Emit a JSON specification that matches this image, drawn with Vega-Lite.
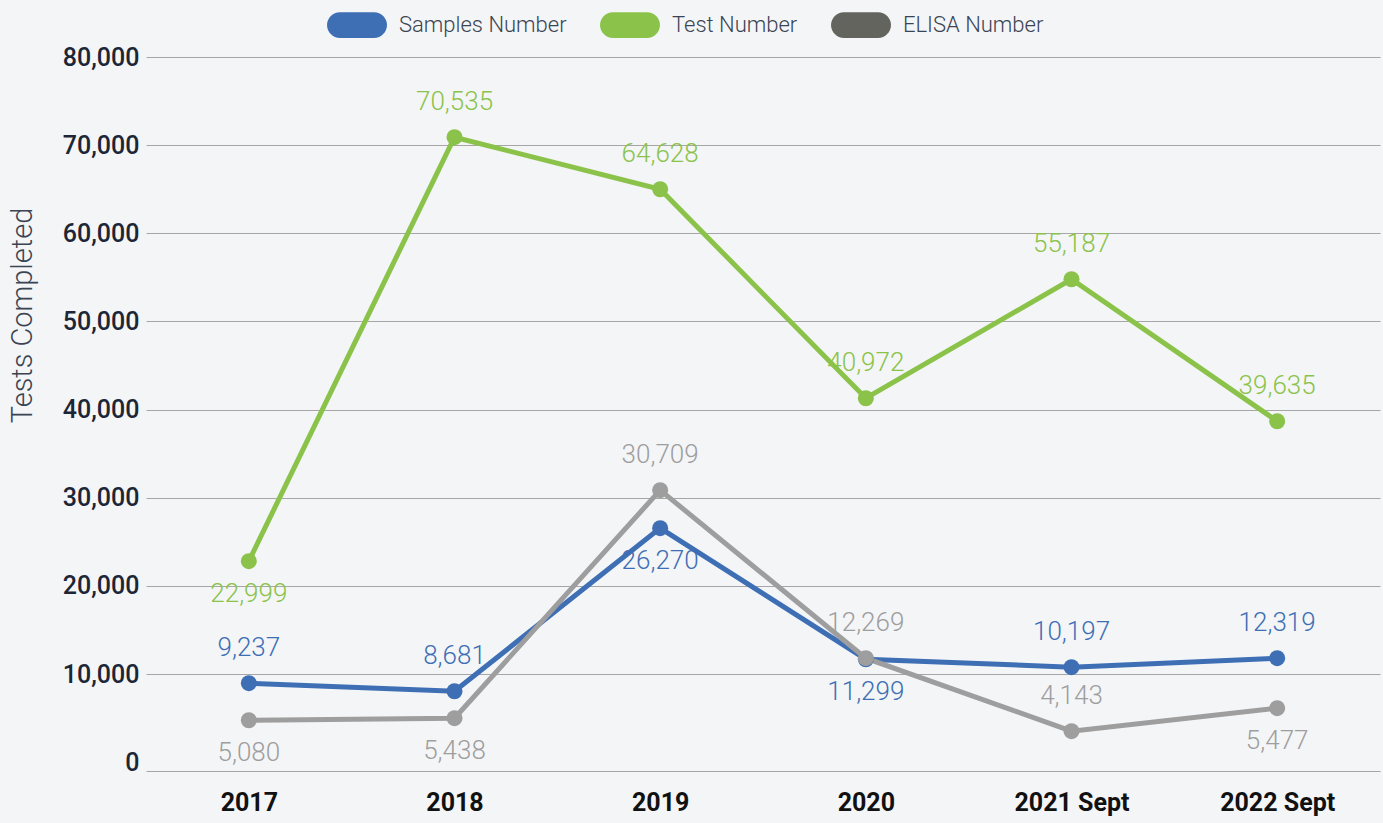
{
  "$schema": "https://vega.github.io/schema/vega-lite/v6.json",
  "width": 1234,
  "height": 714,
  "autosize": {"type": "none"},
  "padding": {"left": 146, "top": 57, "right": 3, "bottom": 52},
  "background": "#f4f5f7",
  "config": {
    "view": {"stroke": null},
    "font": "Roboto"
  },
  "data": {
    "values": [
      {"year": "2017", "series": "Samples Number", "value": 8960, "label": "9,237", "pos": "above"},
      {"year": "2018", "series": "Samples Number", "value": 8050, "label": "8,681", "pos": "above"},
      {"year": "2019", "series": "Samples Number", "value": 26550, "label": "26,270", "pos": "below"},
      {"year": "2020", "series": "Samples Number", "value": 11680, "label": "11,299", "pos": "below"},
      {"year": "2021 Sept", "series": "Samples Number", "value": 10780, "label": "10,197", "pos": "above"},
      {"year": "2022 Sept", "series": "Samples Number", "value": 11800, "label": "12,319", "pos": "above"},
      {"year": "2017", "series": "Test Number", "value": 22800, "label": "22,999", "pos": "below"},
      {"year": "2018", "series": "Test Number", "value": 70900, "label": "70,535", "pos": "above"},
      {"year": "2019", "series": "Test Number", "value": 65000, "label": "64,628", "pos": "above"},
      {"year": "2020", "series": "Test Number", "value": 41290, "label": "40,972", "pos": "above"},
      {"year": "2021 Sept", "series": "Test Number", "value": 54790, "label": "55,187", "pos": "above"},
      {"year": "2022 Sept", "series": "Test Number", "value": 38680, "label": "39,635", "pos": "above"},
      {"year": "2017", "series": "ELISA Number", "value": 4760, "label": "5,080", "pos": "below"},
      {"year": "2018", "series": "ELISA Number", "value": 4990, "label": "5,438", "pos": "below"},
      {"year": "2019", "series": "ELISA Number", "value": 30860, "label": "30,709", "pos": "above"},
      {"year": "2020", "series": "ELISA Number", "value": 11800, "label": "12,269", "pos": "above"},
      {"year": "2021 Sept", "series": "ELISA Number", "value": 3520, "label": "4,143", "pos": "above"},
      {"year": "2022 Sept", "series": "ELISA Number", "value": 6130, "label": "5,477", "pos": "below"}
    ]
  },
  "encoding": {
    "x": {
      "field": "year", "type": "ordinal",
      "scale": {"type": "point", "padding": 0.5},
      "axis": {
        "title": null, "labelAngle": 0, "ticks": false,
        "domain": true, "domainColor": "#a6a6a6", "domainWidth": 1.2,
        "labelFont": "Roboto", "labelFontSize": 25, "labelFontWeight": "bold",
        "labelColor": "#111111", "labelPadding": 19, "grid": false
      }
    },
    "y": {
      "field": "value", "type": "quantitative",
      "scale": {"domain": [-1000, 80000], "nice": false, "zero": false},
      "axis": {
        "values": [0, 10000, 20000, 30000, 40000, 50000, 60000, 70000, 80000],
        "format": ",.0f", "ticks": false, "domain": false,
        "grid": true, "gridColor": "#a6a6a6", "gridWidth": 1.2,
        "gridOpacity": {"condition": {"test": "datum.value === 0", "value": 0}, "value": 1},
        "labelFont": "Roboto", "labelFontSize": 25, "labelFontWeight": 500,
        "labelColor": "#1c2636", "labelPadding": 7,
        "title": "Tests Completed", "titleFont": "Roboto", "titleFontSize": 29,
        "titleFontWeight": 300, "titleColor": "#3b4453",
        "titleX": -124, "titleY": 258, "titleAngle": -90,
        "titleAlign": "center", "titleBaseline": "middle"
      }
    },
    "color": {
      "condition": {"test": "datum.series === 'ELISA Number'", "value": "#9e9e9e"},
      "field": "series", "type": "nominal",
      "scale": {
        "domain": ["Samples Number", "Test Number", "ELISA Number"],
        "range": ["#3e6fb5", "#8bc34a", "#64645f"]
      },
      "legend": {
        "title": null, "orient": "none", "direction": "horizontal",
        "legendX": 181, "legendY": -62,
        "symbolType": "M -0.57 -0.43 L 0.57 -0.43 A 0.43 0.43 0 0 1 0.57 0.43 L -0.57 0.43 A 0.43 0.43 0 0 1 -0.57 -0.43 Z",
        "symbolSize": 3600, "symbolStrokeWidth": 0, "symbolOpacity": 1,
        "labelFont": "Roboto", "labelFontSize": 22, "labelFontWeight": 300, "labelColor": "#3b4453",
        "labelOffset": 12, "columnPadding": 33, "labelLimit": 400
      }
    }
  },
  "layer": [
    {"mark": {"type": "line", "strokeWidth": 5}},
    {"mark": {"type": "point", "filled": true, "size": 256, "opacity": 1, "shape": "circle"}},
    {
      "transform": [{"filter": "datum.pos === 'above'"}],
      "mark": {"type": "text", "dy": -35, "fontSize": 26, "fontWeight": 300, "font": "Roboto", "baseline": "middle", "align": "center"},
      "encoding": {"text": {"field": "label"}}
    },
    {
      "transform": [{"filter": "datum.pos === 'below'"}],
      "mark": {"type": "text", "dy": 33, "fontSize": 26, "fontWeight": 300, "font": "Roboto", "baseline": "middle", "align": "center"},
      "encoding": {"text": {"field": "label"}}
    }
  ]
}
